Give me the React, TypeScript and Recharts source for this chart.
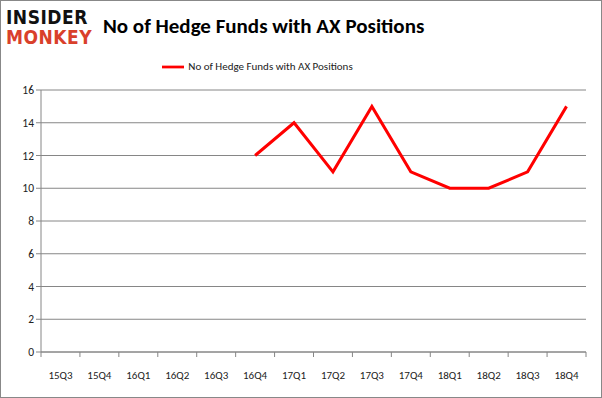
import React from 'react';
import { LineChart, Line, XAxis, YAxis, CartesianGrid, Legend } from 'recharts';

const quarters = ['15Q3', '15Q4', '16Q1', '16Q2', '16Q3', '16Q4', '17Q1', '17Q2', '17Q3', '17Q4', '18Q1', '18Q2', '18Q3', '18Q4'];
const hedgeFunds: (number | null)[] = [null, null, null, null, null, 12, 14, 11, 15, 11, 10, 10, 11, 15];
const yTicks = [0, 2, 4, 6, 8, 10, 12, 14, 16];

const seriesName = 'No of Hedge Funds with AX Positions';
const W = 602;
const H = 398;
const plotLeft = 41;
const plotRight = 16;
const step = (W - plotLeft - plotRight) / quarters.length;
const axisColor = '#868686';
const labelFont = 'Carlito, "Open Sans", "Liberation Sans", sans-serif';

const data = quarters.map((q, i) => ({ q, value: hedgeFunds[i] }));

// Tick marks sit between categories, like the original
const XTick = (props: any) => {
  const { x, y, payload, index } = props;
  return (
    <g>
      <line x1={x - step / 2} x2={x - step / 2} y1={y - 8} y2={y - 3} stroke={axisColor} />
      {index === quarters.length - 1 && (
        <line x1={x + step / 2} x2={x + step / 2} y1={y - 8} y2={y - 3} stroke={axisColor} />
      )}
      <text x={x} y={y + 19} textAnchor="middle" fontSize={11} fill="#222" fontFamily={labelFont}>
        {payload.value}
      </text>
    </g>
  );
};

export default function App() {
  return (
    <div style={{ position: 'absolute', left: 0, top: 0, width: W, height: H, background: '#fff', boxSizing: 'border-box', border: '1px solid #888' }}>
      <div style={{ position: 'absolute', left: 5, top: 6, fontFamily: '"DejaVu Sans Condensed", "DejaVu Sans", sans-serif', fontWeight: 'bold', fontSize: 19, lineHeight: '20px', letterSpacing: 0.5 }}>
        <div style={{ color: '#111' }}>INSIDER</div>
        <div style={{ color: '#d9402b' }}>MONKEY</div>
      </div>
      <div style={{ position: 'absolute', left: 102, top: 12, fontFamily: labelFont, fontWeight: 'bold', fontSize: 21, color: '#000', whiteSpace: 'nowrap' }}>
        {seriesName}
      </div>
      <div style={{ position: 'absolute', left: 0, top: 0 }}>
        <LineChart width={W - 2} height={H - 2} data={data} margin={{ top: 89, right: plotRight - 1, bottom: 16, left: 0 }}>
          <CartesianGrid vertical={false} stroke={axisColor} strokeWidth={1} />
          <XAxis
            dataKey="q"
            stroke={axisColor}
            tickLine={false}
            tick={<XTick />}
            height={29}
            interval={0}
            padding={{ left: step / 2, right: step / 2 }}
          />
          <YAxis
            width={plotLeft - 1}
            domain={[0, 16]}
            ticks={yTicks}
            stroke={axisColor}
            tickSize={5}
            tick={{ fontSize: 11.5, fill: '#222', fontFamily: labelFont }}
            interval={0}
          />
          <Legend
            verticalAlign="middle"
            align="center"
            layout="horizontal"
            iconSize={22}
            wrapperStyle={{ top: 55, left: 0, width: 523, fontSize: 11, fontFamily: labelFont, color: '#222' }}
            formatter={(v: string) => <span style={{ color: '#222' }}>{v}</span>}
          />
          <Line
            type="linear"
            dataKey="value"
            name={seriesName}
            stroke="#ff0000"
            strokeWidth={3}
            dot={false}
            legendType="plainline"
            isAnimationActive={false}
          />
        </LineChart>
      </div>
    </div>
  );
}
